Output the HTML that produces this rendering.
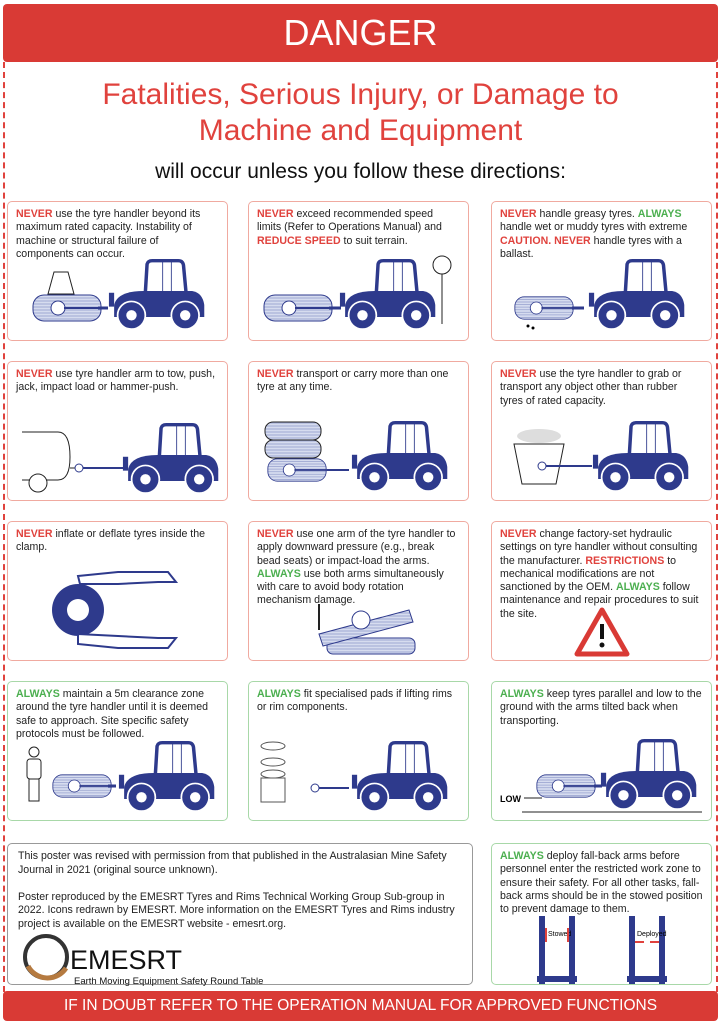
<!DOCTYPE html>
<html><head><meta charset="utf-8"><style>
*{margin:0;padding:0;box-sizing:border-box}
body{width:721px;height:1024px;background:#fff;font-family:"Liberation Sans",sans-serif;position:relative;overflow:hidden}
.hdr{position:absolute;left:3px;top:4px;width:715px;height:58px;background:#d93a35;border-radius:4px;color:#fff;font-size:36px;text-align:center;line-height:58px}
.frame{position:absolute;left:3px;top:62px;width:715px;height:930px;border-left:2px dashed #e0423d;border-right:2px dashed #e0423d}
.t1{position:absolute;left:0;width:721px;text-align:center;color:#e0423d;font-size:30px;line-height:36px;top:77px}
.t2{position:absolute;left:0;width:721px;text-align:center;color:#111;font-size:21px;top:160px}
.c{position:absolute;width:221px;height:140px;border:1px solid #f0aaa0;border-radius:5px;font-size:10.6px;line-height:13.3px;color:#222;padding:6px 8px}
.g{border-color:#a8d8a8}
.r{color:#e0423d;font-weight:bold}
.gr{color:#4caf50;font-weight:bold}
.c svg{position:absolute;left:0;top:0}
.foot{position:absolute;left:3px;top:991px;width:715px;height:30px;background:#d93a35;border-radius:4px;color:#fff;font-size:15.5px;text-align:center;line-height:30px}
.box{position:absolute;left:7px;top:843px;width:466px;height:142px;border:1px solid #999;border-radius:5px;font-size:10.6px;line-height:13.5px;color:#222;padding:6px 10px}
</style></head><body>
<svg width="0" height="0" style="position:absolute"><defs>
<symbol id="tr" viewBox="0 0 120 80">
<path d="M50 38 L52 5 Q53 1 58 1 L88 1 Q93 1 94 6 L97 38" fill="none" stroke="#2e3a8c" stroke-width="4"/>
<line x1="70" y1="2" x2="70" y2="36" stroke="#2e3a8c" stroke-width="1"/><line x1="80" y1="2" x2="80" y2="36" stroke="#2e3a8c" stroke-width="1"/>
<path d="M14 52 Q18 36 48 36 L104 36 Q116 38 118 52 L118 66 L14 66 Z" fill="#2e3a8c"/>
<rect x="8" y="38" width="6" height="16" fill="#2e3a8c"/>
<circle cx="34" cy="64" r="16" fill="#2e3a8c" stroke="#fff" stroke-width="2"/><circle cx="34" cy="64" r="6" fill="#fff"/>
<circle cx="96" cy="64" r="16" fill="#2e3a8c" stroke="#fff" stroke-width="2"/><circle cx="96" cy="64" r="6" fill="#fff"/>
</symbol>
<pattern id="st" width="3" height="3" patternUnits="userSpaceOnUse"><rect width="3" height="3" fill="#d6dcef"/><line x1="0" y1="1" x2="3" y2="1" stroke="#7a86c0" stroke-width=".6"/></pattern>
<symbol id="ty" viewBox="0 0 70 28">
<rect x="1" y="1" width="68" height="26" rx="11" fill="url(#st)" stroke="#2e3a8c" stroke-width="1"/>
<circle cx="26" cy="14" r="7" fill="#fff" stroke="#2e3a8c"/>
<line x1="32" y1="14" x2="70" y2="14" stroke="#2e3a8c" stroke-width="2"/>
</symbol>
</defs></svg>

<div class="hdr">DANGER</div>
<div class="frame"></div>
<div class="t1">Fatalities, Serious Injury, or Damage to<br>Machine and Equipment</div>
<div class="t2">will occur unless you follow these directions:</div>

<div class="c" style="left:7px;top:201px"><span class="r">NEVER</span> use the tyre handler beyond its maximum rated capacity. Instability of machine or structural failure of components can occur.
<svg width="221" height="140"><path d="M40 92 L46 70 L60 70 L66 92 Z" fill="none" stroke="#222"/><use href="#ty" x="24" y="92" width="70" height="28"/><line x1="90" y1="106" x2="100" y2="106" stroke="#2e3a8c" stroke-width="3"/><use href="#tr" x="94" y="56" width="104" height="73"/></svg></div>
<div class="c" style="left:248px;top:201px"><span class="r">NEVER</span> exceed recommended speed limits (Refer to Operations Manual) and <span class="r">REDUCE SPEED</span> to suit terrain.
<svg width="221" height="140"><use href="#ty" x="14" y="92" width="70" height="28"/><line x1="80" y1="106" x2="92" y2="106" stroke="#2e3a8c" stroke-width="3"/><use href="#tr" x="84" y="56" width="104" height="73"/><circle cx="193" cy="63" r="9" fill="#fff" stroke="#222"/><line x1="193" y1="72" x2="193" y2="122" stroke="#222"/></svg></div>
<div class="c" style="left:491px;top:201px"><span class="r">NEVER</span> handle greasy tyres. <span class="gr">ALWAYS</span> handle wet or muddy tyres with extreme <span class="r">CAUTION.</span> <span class="r">NEVER</span> handle tyres with a ballast.
<svg width="221" height="140"><use href="#ty" x="22" y="94" width="60" height="24"/><line x1="80" y1="106" x2="92" y2="106" stroke="#2e3a8c" stroke-width="3"/><use href="#tr" x="90" y="56" width="104" height="73"/><circle cx="36" cy="124" r="1.5"/><circle cx="41" cy="126" r="1.5"/></svg></div>

<div class="c" style="left:7px;top:361px"><span class="r">NEVER</span> use tyre handler arm to tow, push, jack, impact load or hammer-push.
<svg width="221" height="140"><path d="M14 70 L50 70 Q62 70 62 95 Q62 118 50 118 L14 118" fill="#fff" stroke="#222"/><circle cx="30" cy="121" r="9" fill="#fff" stroke="#222"/><line x1="62" y1="106" x2="72" y2="106" stroke="#222"/><circle cx="71" cy="106" r="4" fill="#fff" stroke="#2e3a8c"/><line x1="75" y1="106" x2="115" y2="106" stroke="#2e3a8c" stroke-width="2"/><use href="#tr" x="108" y="60" width="104" height="73"/></svg></div>
<div class="c" style="left:248px;top:361px"><span class="r">NEVER</span> transport or carry more than one tyre at any time.
<svg width="221" height="140"><rect x="16" y="60" width="56" height="18" rx="8" fill="url(#st)" stroke="#222"/><rect x="16" y="78" width="56" height="18" rx="8" fill="url(#st)" stroke="#222"/><use href="#ty" x="16" y="96" width="64" height="24"/><line x1="78" y1="108" x2="100" y2="108" stroke="#2e3a8c" stroke-width="2"/><use href="#tr" x="96" y="58" width="104" height="73"/></svg></div>
<div class="c" style="left:491px;top:361px"><span class="r">NEVER</span> use the tyre handler to grab or transport any object other than rubber tyres of rated capacity.
<svg width="221" height="140"><ellipse cx="47" cy="74" rx="22" ry="7" fill="#ddd"/><path d="M22 82 L72 82 L64 122 L30 122 Z" fill="#fff" stroke="#222"/><circle cx="50" cy="104" r="4" fill="#fff" stroke="#2e3a8c"/><line x1="54" y1="104" x2="100" y2="104" stroke="#2e3a8c" stroke-width="2"/><use href="#tr" x="94" y="58" width="104" height="73"/></svg></div>

<div class="c" style="left:7px;top:521px"><span class="r">NEVER</span> inflate or deflate tyres inside the clamp.
<svg width="221" height="140"><circle cx="70" cy="88" r="26" fill="#2e3a8c"/><circle cx="70" cy="88" r="11" fill="#fff"/><path d="M70 54 L110 50 L160 50 L168 60 L150 60 L110 62 L72 62 Z" fill="#fff" stroke="#2e3a8c" stroke-width="2"/><path d="M70 112 L110 114 L150 116 L168 116 L160 126 L110 126 L70 122 Z" fill="#fff" stroke="#2e3a8c" stroke-width="2"/></svg></div>
<div class="c" style="left:248px;top:521px"><span class="r">NEVER</span> use one arm of the tyre handler to apply downward pressure (e.g., break bead seats) or impact-load the arms. <span class="gr">ALWAYS</span> use both arms simultaneously with care to avoid body rotation mechanism damage.
<svg width="221" height="140"><rect x="78" y="116" width="88" height="16" rx="6" fill="url(#st)" stroke="#2e3a8c"/><path d="M70 112 L160 88 L164 100 L74 124 Z" fill="url(#st)" stroke="#2e3a8c"/><circle cx="112" cy="98" r="9" fill="#fff" stroke="#2e3a8c"/><line x1="70" y1="82" x2="70" y2="108" stroke="#222" stroke-width="2"/></svg></div>
<div class="c" style="left:491px;top:521px"><span class="r">NEVER</span> change factory-set hydraulic settings on tyre handler without consulting the manufacturer. <span class="r">RESTRICTIONS</span> to mechanical modifications are not sanctioned by the OEM. <span class="gr">ALWAYS</span> follow maintenance and repair procedures to suit the site.
<svg width="221" height="140"><path d="M110 88 L135 132 L85 132 Z" fill="#fff" stroke="#d93a35" stroke-width="5" stroke-linejoin="round"/><rect x="108" y="102" width="4" height="15" fill="#111"/><circle cx="110" cy="123" r="2.5" fill="#111"/></svg></div>

<div class="c g" style="left:7px;top:681px"><span class="gr">ALWAYS</span> maintain a 5m clearance zone around the tyre handler until it is deemed safe to approach. Site specific safety protocols must be followed.
<svg width="221" height="140"><circle cx="26" cy="70" r="5" fill="#fff" stroke="#222"/><rect x="19" y="77" width="14" height="20" rx="3" fill="#fff" stroke="#222"/><rect x="21" y="97" width="10" height="22" fill="#fff" stroke="#222"/><use href="#ty" x="44" y="92" width="60" height="24"/><line x1="100" y1="104" x2="108" y2="104" stroke="#2e3a8c" stroke-width="3"/><use href="#tr" x="104" y="58" width="104" height="73"/></svg></div>
<div class="c g" style="left:248px;top:681px"><span class="gr">ALWAYS</span> fit specialised pads if lifting rims or rim components.
<svg width="221" height="140"><ellipse cx="24" cy="64" rx="12" ry="4" fill="none" stroke="#555"/><ellipse cx="24" cy="80" rx="12" ry="4" fill="none" stroke="#555"/><ellipse cx="24" cy="92" rx="12" ry="4" fill="none" stroke="#555"/><rect x="12" y="96" width="24" height="24" fill="none" stroke="#555"/><circle cx="66" cy="106" r="4" fill="#fff" stroke="#2e3a8c"/><line x1="70" y1="106" x2="100" y2="106" stroke="#2e3a8c" stroke-width="2"/><use href="#tr" x="96" y="58" width="104" height="73"/></svg></div>
<div class="c g" style="left:491px;top:681px"><span class="gr">ALWAYS</span> keep tyres parallel and low to the ground with the arms tilted back when transporting.
<svg width="221" height="140"><use href="#ty" x="42" y="92" width="64" height="24"/><line x1="102" y1="104" x2="110" y2="104" stroke="#2e3a8c" stroke-width="3"/><use href="#tr" x="102" y="56" width="104" height="73"/><line x1="30" y1="130" x2="210" y2="130" stroke="#222"/><text x="8" y="120" font-size="9" font-weight="bold" font-family="Liberation Sans">LOW</text><line x1="32" y1="116" x2="50" y2="116" stroke="#222"/></svg></div>

<div class="box">This poster was revised with permission from that published in the Australasian Mine Safety Journal in 2021 (original source unknown).<br><br>Poster reproduced by the EMESRT Tyres and Rims Technical Working Group Sub-group in 2022. Icons redrawn by EMESRT. More information on the EMESRT Tyres and Rims industry project is available on the EMESRT website - emesrt.org.
<svg width="466" height="142" style="position:absolute;left:0;top:0"><circle cx="38" cy="113" r="21" fill="none" stroke="#333" stroke-width="4"/><path d="M20 122 A22 22 0 0 0 58 124" fill="none" stroke="#b57a40" stroke-width="5"/><text x="62" y="125" font-size="27" font-family="Liberation Sans" fill="#111">EMESRT</text><text x="66" y="140" font-size="9.5" font-family="Liberation Sans" fill="#111">Earth Moving Equipment Safety Round Table</text></svg></div>
<div class="c g" style="left:491px;top:843px;height:142px"><span class="gr">ALWAYS</span> deploy fall-back arms before personnel enter the restricted work zone to ensure their safety. For all other tasks, fall-back arms should be in the stowed position to prevent damage to them.
<svg width="221" height="142"><g fill="#2e3a8c"><rect x="47" y="72" width="6" height="68"/><rect x="77" y="72" width="6" height="68"/><rect x="45" y="132" width="40" height="6"/><rect x="137" y="72" width="6" height="68"/><rect x="167" y="72" width="6" height="68"/><rect x="135" y="132" width="40" height="6"/></g><text x="56" y="92" font-size="7" font-family="Liberation Sans">Stowed</text><text x="145" y="92" font-size="7" font-family="Liberation Sans">Deployed</text><line x1="143" y1="98" x2="152" y2="98" stroke="#e0423d" stroke-width="2"/><line x1="158" y1="98" x2="167" y2="98" stroke="#e0423d" stroke-width="2"/><line x1="54" y1="84" x2="54" y2="98" stroke="#e0423d" stroke-width="2"/><line x1="76" y1="84" x2="76" y2="98" stroke="#e0423d" stroke-width="2"/></svg></div>

<div class="foot">IF IN DOUBT REFER TO THE OPERATION MANUAL FOR APPROVED FUNCTIONS</div>
</body></html>
